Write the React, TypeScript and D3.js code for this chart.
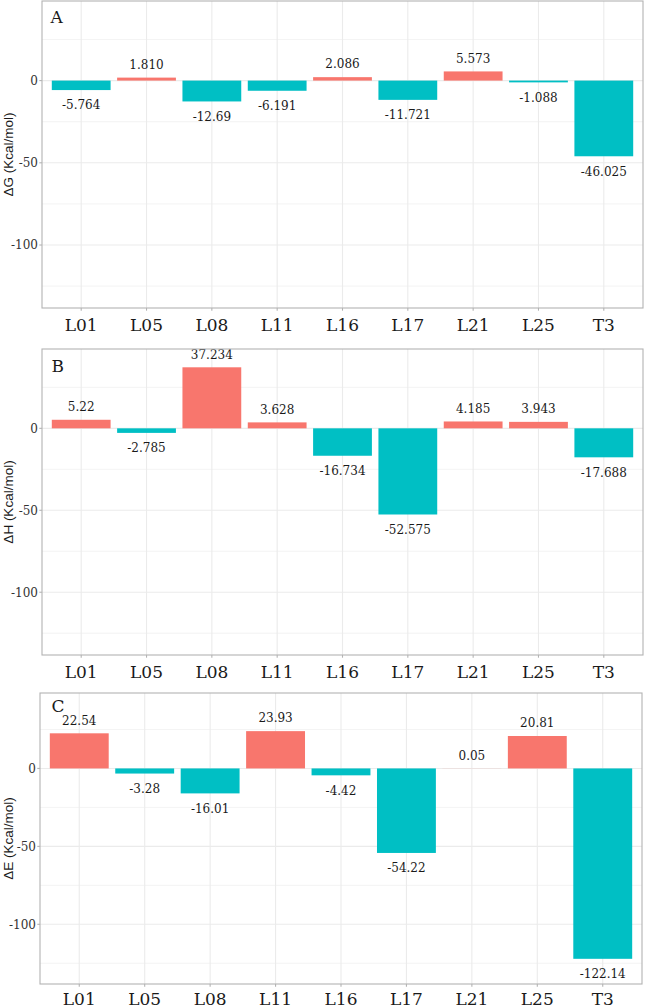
import React from "react";
import * as d3 from "d3";

// ---- data ----
const categories = ["L01", "L05", "L08", "L11", "L16", "L17", "L21", "L25", "T3"];
const deltaG = ["-5.764", "1.810", "-12.69", "-6.191", "2.086", "-11.721", "5.573", "-1.088", "-46.025"];
const deltaH = ["5.22", "-2.785", "37.234", "3.628", "-16.734", "-52.575", "4.185", "3.943", "-17.688"];
const deltaE = ["22.54", "-3.28", "-16.01", "23.93", "-4.42", "-54.22", "0.05", "20.81", "-122.14"];
const majorTicks = [0, -50, -100];
const minorTicks = [25, -25, -75, -125];
const yDomain: [number, number] = [-138.3, 48.4];

const POS = "#F8766D";
const NEG = "#00BFC4";
const GRID = "#EBEBEB";
const BORDER = "#B3B3B3";

const panels = [
  { letter: "A", title: "ΔG (Kcal/mol)", values: deltaG, top: 1, bottom: 308, left: 42, right: 643, lx: 50.5, ly: 23.3, xlab: 23 },
  { letter: "B", title: "ΔH (Kcal/mol)", values: deltaH, top: 349, bottom: 655, left: 42, right: 643, lx: 51.5, ly: 371.7, xlab: 23 },
  { letter: "C", title: "ΔE (Kcal/mol)", values: deltaE, top: 693, bottom: 984, left: 40, right: 642, lx: 51.5, ly: 711.7, xlab: 20.5 },
];

const serif = "'DejaVu Serif', serif";
const sans = "'Liberation Sans', Arial, sans-serif";

function Panel({ p }: { p: (typeof panels)[number] }) {
  const x = d3
    .scaleBand<string>()
    .domain(categories)
    .range([p.left, p.right])
    .paddingInner(0.1)
    .paddingOuter(0.15);
  const y = d3.scaleLinear().domain(yDomain).range([p.bottom, p.top]);
  const cx = (c: string) => (x(c) as number) + x.bandwidth() / 2;
  return (
    <g>
      <rect x={p.left} y={p.top} width={p.right - p.left} height={p.bottom - p.top} fill="#fff" />
      {minorTicks.map((t) => (
        <line key={"mi" + t} x1={p.left} x2={p.right} y1={y(t)} y2={y(t)} stroke={GRID} strokeWidth={0.6} />
      ))}
      {majorTicks.map((t) => (
        <line key={"ma" + t} x1={p.left} x2={p.right} y1={y(t)} y2={y(t)} stroke={GRID} strokeWidth={1.1} />
      ))}
      {categories.map((c) => (
        <line key={"vx" + c} x1={cx(c)} x2={cx(c)} y1={p.top} y2={p.bottom} stroke={GRID} strokeWidth={1.1} />
      ))}
      {categories.map((c, i) => {
        const v = +p.values[i];
        const yt = y(Math.max(0, v));
        const yb = y(Math.min(0, v));
        return (
          <rect
            key={"b" + c}
            x={x(c)}
            y={yt}
            width={x.bandwidth()}
            height={Math.max(0, yb - yt)}
            fill={v >= 0 ? POS : NEG}
          />
        );
      })}
      {categories.map((c, i) => {
        const v = +p.values[i];
        const ly = v >= 0 ? y(v) - 13 : y(v) + 15;
        return (
          <text
            key={"l" + c}
            x={cx(c)}
            y={ly}
            dy="0.36em"
            textAnchor="middle"
            fontFamily={serif}
            fontSize={12}
            fill="#1a1a1a"
          >
            {p.values[i]}
          </text>
        );
      })}
      <rect
        x={p.left}
        y={p.top}
        width={p.right - p.left}
        height={p.bottom - p.top}
        fill="none"
        stroke={BORDER}
        strokeWidth={1.1}
      />
      {majorTicks.map((t) => (
        <g key={"yt" + t}>
          <line x1={p.left - 2.7} x2={p.left} y1={y(t)} y2={y(t)} stroke={BORDER} strokeWidth={1.1} />
          <text
            x={p.left - 4}
            y={y(t)}
            dy="0.36em"
            textAnchor="end"
            fontFamily={serif}
            fontSize={12}
            fill="#333"
          >
            {t}
          </text>
        </g>
      ))}
      {categories.map((c) => (
        <g key={"xt" + c}>
          <line x1={cx(c)} x2={cx(c)} y1={p.bottom} y2={p.bottom + 2.7} stroke={BORDER} strokeWidth={1.1} />
          <text x={cx(c)} y={p.bottom + p.xlab} textAnchor="middle" fontFamily={serif} fontSize={17} fill="#1a1a1a">
            {c}
          </text>
        </g>
      ))}
      <text x={p.lx} y={p.ly} fontFamily={serif} fontSize={17} fill="#1a1a1a">
        {p.letter}
      </text>
      <text
        transform={`translate(12.5,${(p.top + p.bottom) / 2}) rotate(-90)`}
        textAnchor="middle"
        fontFamily={sans}
        fontSize={13.5}
        fill="#1a1a1a"
      >
        {p.title}
      </text>
    </g>
  );
}

export default function App() {
  return (
    <svg
      width={646}
      height={1008}
      style={{ position: "absolute", left: 0, top: 0, display: "block", background: "#fff" }}
    >
      <rect width={646} height={1008} fill="#fff" />
      {panels.map((p) => (
        <Panel key={p.letter} p={p} />
      ))}
    </svg>
  );
}
